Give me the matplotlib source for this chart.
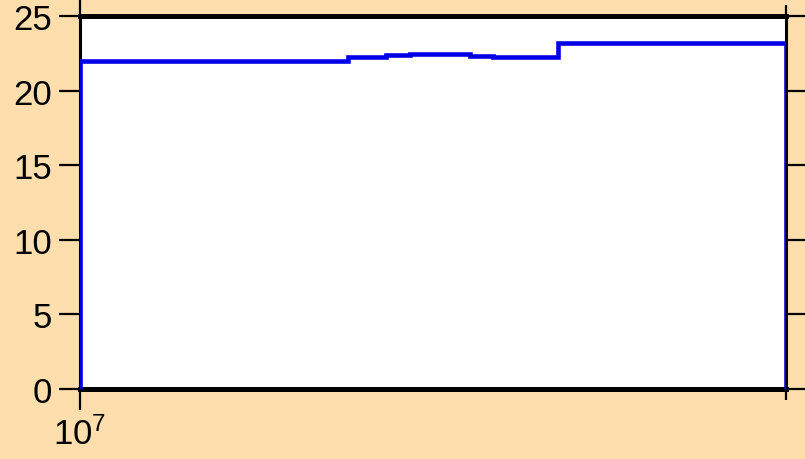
import matplotlib.pyplot as plt
from matplotlib.ticker import FixedLocator, NullFormatter

plt.rcParams["font.family"] = ["Liberation Sans", "DejaVu Sans"]
plt.rcParams["mathtext.default"] = "regular"

# 阶梯数据
edges = [1.0e7, 1.38e7, 1.83e7, 2.4e7, 2.71e7, 2.93e7, 3.24e7, 3.57e7,
         3.85e7, 4.76e7, 5.86e7, 1.0e8]
values = [21.97, 21.98, 21.98, 22.28, 22.40, 22.45, 22.42, 22.35,
          22.27, 23.22, 23.17]
y_ticks = [0, 5, 10, 15, 20, 25]
x_major = [1.0e7]
x_minor = [1.0e8]

bg = "#FDDEAC"
fig = plt.figure(figsize=(8.05, 4.60), dpi=100, facecolor=bg)
ax = fig.add_axes([80 / 805, 1 - 390 / 460, 706 / 805, 373 / 460])
ax.set_facecolor("white")

ax.stairs(values, edges, baseline=0, color="#0000E6", linewidth=3.3, zorder=3)

ax.set_xscale("log")
ax.set_xlim(edges[0], edges[-1])
ax.set_ylim(0, 25)
ax.set_yticks(y_ticks)
ax.xaxis.set_major_locator(FixedLocator(x_major))
ax.xaxis.set_minor_locator(FixedLocator(x_minor))
ax.xaxis.set_minor_formatter(NullFormatter())

for side in ["top", "bottom"]:
    ax.spines[side].set_linewidth(3.6)
for side in ["left", "right"]:
    ax.spines[side].set_linewidth(2.2)

ax.tick_params(axis="both", which="major", direction="out", length=15,
               width=1.6, labelsize=25, pad=5, top=True, right=True)
ax.tick_params(axis="x", which="minor", direction="out", length=8,
               width=1.6, top=True)

fig.savefig("out.png", dpi=100, facecolor=bg)
